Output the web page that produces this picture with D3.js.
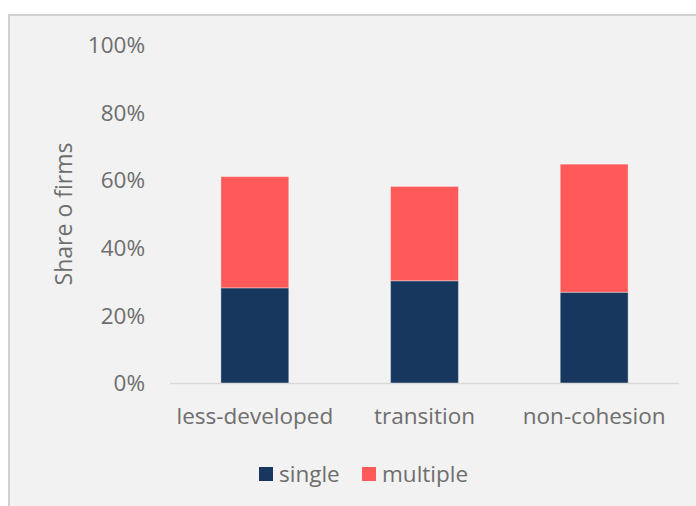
<!DOCTYPE html>
<html><head><meta charset="utf-8">
<script src="https://cdn.jsdelivr.net/npm/d3@7"></script>
<style>
html,body{margin:0;padding:0;background:#fff;}
text{font-family:"Open Sans","Segoe UI",sans-serif;fill:#6e6e6e;}
</style></head>
<body>
<svg id="c" width="696" height="506"></svg>
<script>
const categories = ["less-developed","transition","non-cohesion"];
const seriesNames = ["single","multiple"];
const singleValues = [0.283, 0.304, 0.270];
const multipleValues = [0.329, 0.279, 0.379];
const yTicks = [0,0.2,0.4,0.6,0.8,1.0];
const colors = ["#17375e","#ff5a5a"];
const FS = 22.5;

const svg = d3.select("#c");
svg.append("rect").attr("x",9).attr("y",15).attr("width",700).attr("height",500)
  .attr("fill","#f2f2f2").attr("stroke","#d0d0d0").attr("stroke-width",2);

const x = d3.scaleBand().domain(categories).range([170,679]).paddingInner(0.6).paddingOuter(0.3);
const y = d3.scaleLinear().domain([0,1]).range([383.5,45.5]);

const data = categories.map((c,i)=>({cat:c, single:singleValues[i], multiple:multipleValues[i]}));
const stack = d3.stack().keys(seriesNames)(data);

svg.append("g").selectAll("g").data(stack).join("g")
  .attr("fill",(d,i)=>colors[i])
  .selectAll("rect").data(d=>d).join("rect")
  .attr("x",d=>x(d.data.cat)).attr("width",x.bandwidth())
  .attr("y",d=>y(d[1])).attr("height",d=>y(d[0])-y(d[1]))
  .attr("stroke","rgba(255,255,255,0.35)").attr("stroke-width",1);

// baseline
svg.append("line").attr("x1",170).attr("x2",679).attr("y1",y(0)).attr("y2",y(0))
  .attr("stroke","#d9d9d9").attr("stroke-width",1.5);

// y ticks
const ya = d3.axisLeft(y).tickValues(yTicks).tickFormat(d3.format(".0%")).tickSize(0).tickPadding(0);
const gy = svg.append("g").attr("transform","translate(145,0)").call(ya);
gy.select(".domain").remove();
gy.selectAll("text").attr("font-size",FS).attr("fill","#6e6e6e").style("font-family","'Open Sans',sans-serif");

// x labels
const xa = d3.axisBottom(x).tickSize(0).tickPadding(0);
const gx = svg.append("g").attr("transform","translate(0,408)").call(xa);
gx.select(".domain").remove();
gx.selectAll("text").attr("font-size",FS).attr("fill","#6e6e6e").style("font-family","'Open Sans',sans-serif");

// y title
svg.append("text").attr("transform","translate(72,214) rotate(-90)")
  .attr("text-anchor","middle").attr("font-size",23).text("Share o firms");

// legend
const leg = [{n:"single",x:259},{n:"multiple",x:362}];
leg.forEach((l,i)=>{
  svg.append("rect").attr("x",l.x).attr("y",467).attr("width",14).attr("height",14).attr("fill",colors[i]);
  svg.append("text").attr("x",l.x+20).attr("y",482).attr("font-size",FS).text(l.n);
});
</script>
</body></html>
